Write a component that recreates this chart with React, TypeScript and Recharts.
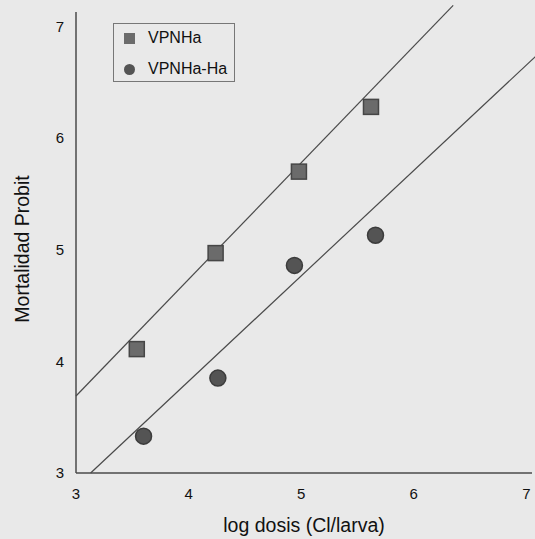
import { ScatterChart, Scatter, XAxis, YAxis, ReferenceLine, Legend } from 'recharts'

// tick values
const xTicks = [3, 4, 5, 6, 7]
const yTicks = [3, 4, 5, 6, 7]

const seriesNames = ['VPNHa', 'VPNHa-Ha']

// observed points (log dose, probit)
const vpnhaLogDose = [3.54, 4.24, 4.98, 5.62]
const vpnhaProbit = [4.11, 4.97, 5.7, 6.28]
const vpnhaHaLogDose = [3.6, 4.26, 4.94, 5.66]
const vpnhaHaProbit = [3.33, 3.85, 4.86, 5.13]

// fitted lines, ends
const vpnhaFitX = [3, 6.35]
const vpnhaFitY = [3.69, 7.19]
const vpnhaHaFitX = [3.13, 7.08]
const vpnhaHaFitY = [3, 6.73]

const toPoints = (xs: number[], ys: number[]) => xs.map((x, i) => ({ x, y: ys[i] }))

const squareFill = '#6b6b6b'
const circleFill = '#545454'
const ink = '#111'
const lineColor = '#4a4a4a'

const SquareDot = (p: any) => (
    <rect x={p.cx - 7.5} y={p.cy - 7.5} width={15} height={15} fill={squareFill} stroke="#464646" strokeWidth={1.5} />
)

const CircleDot = (p: any) => <circle cx={p.cx} cy={p.cy} r={8} fill={circleFill} stroke="#3c3c3c" strokeWidth={1.5} />

function LegendBox() {
    return (
        <div
            style={{
                position: 'relative',
                boxSizing: 'border-box',
                width: 122,
                height: 59,
                border: '1px solid #777',
                fontSize: 16,
                color: ink,
            }}
        >
            {seriesNames.map((name, i) => (
                <div key={name} style={{ position: 'absolute', left: 0, top: 4 + i * 31, height: 20, display: 'flex', alignItems: 'center' }}>
                    <span
                        style={{
                            display: 'inline-block',
                            marginLeft: 10,
                            width: 11,
                            height: 11,
                            background: i === 0 ? squareFill : circleFill,
                            borderRadius: i === 0 ? 0 : '50%',
                        }}
                    />
                    <span style={{ marginLeft: 13, lineHeight: '20px' }}>{name}</span>
                </div>
            ))}
        </div>
    )
}

function YTitle({ viewBox }: any) {
    const cx = viewBox.x + 22
    const cy = viewBox.y + viewBox.height / 2 + 6.5
    return (
        <text x={cx} y={cy} transform={`rotate(-90, ${cx}, ${cy})`} textAnchor="middle" dominantBaseline="central" fontSize={19.5} fill={ink}>
            Mortalidad Probit
        </text>
    )
}

export default function App() {
    return (
        <div
            style={{
                position: 'absolute',
                left: 0,
                top: 0,
                width: 535,
                height: 539,
                background: '#e9e9e9',
                fontFamily: '"Liberation Sans", Arial, sans-serif',
            }}
        >
            <ScatterChart width={535} height={539} margin={{ top: 12, right: 3, bottom: 0, left: 0 }}>
                <XAxis
                    type="number"
                    dataKey="x"
                    domain={[3, 7.05]}
                    ticks={xTicks}
                    tickLine={false}
                    tickSize={6}
                    tickMargin={9}
                    axisLine={{ stroke: lineColor, strokeWidth: 1.5 }}
                    tick={{ fontSize: 15, fill: ink }}
                    height={66}
                    label={{ value: 'log dosis (Cl/larva)', position: 'insideBottom', offset: 7.5, fontSize: 19.5, fill: ink }}
                />
                <YAxis
                    type="number"
                    dataKey="y"
                    domain={[3, 7.13]}
                    ticks={yTicks}
                    tickLine={false}
                    tickSize={6}
                    tickMargin={6}
                    axisLine={{ stroke: lineColor, strokeWidth: 1.5 }}
                    tick={{ fontSize: 15, fill: ink }}
                    width={76}
                    label={YTitle}
                />
                <ReferenceLine
                    segment={toPoints(vpnhaFitX, vpnhaFitY)}
                    stroke={lineColor}
                    strokeWidth={1.2}
                    ifOverflow="visible"
                />
                <ReferenceLine
                    segment={toPoints(vpnhaHaFitX, vpnhaHaFitY)}
                    stroke={lineColor}
                    strokeWidth={1.2}
                    ifOverflow="visible"
                />
                <Scatter name={seriesNames[0]} data={toPoints(vpnhaLogDose, vpnhaProbit)} shape={SquareDot} isAnimationActive={false} />
                <Scatter name={seriesNames[1]} data={toPoints(vpnhaHaLogDose, vpnhaHaProbit)} shape={CircleDot} isAnimationActive={false} />
                <Legend
                    layout="vertical"
                    align="center"
                    verticalAlign="middle"
                    wrapperStyle={{ left: 113, top: 23 }}
                    content={<LegendBox />}
                />
            </ScatterChart>
        </div>
    )
}
